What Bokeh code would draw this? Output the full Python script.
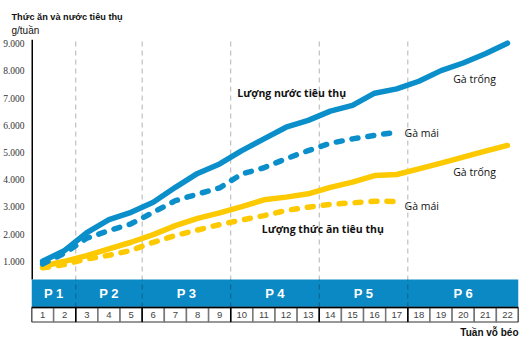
from bokeh.plotting import figure
from bokeh.models import Range1d, FixedTicker, Title, Label
from bokeh.embed import file_html
from bokeh.resources import INLINE
from bokeh.core.properties import value

# ---- data ----
weeks = list(range(1, 23))
water_rooster = [1000, 1400, 2050, 2530, 2800, 3170, 3720, 4230, 4580, 5070, 5500,
                 5930, 6180, 6520, 6730, 7180, 7340, 7620, 8010, 8290, 8630, 9020]
water_hen = [900, 1300, 1850, 2130, 2380, 2800, 3230, 3470, 3700, 4210, 4440,
             4770, 5070, 5340, 5500, 5630, 5750]
feed_rooster = [820, 1000, 1210, 1460, 1700, 1980, 2310, 2580, 2780, 3010, 3260,
                3360, 3480, 3720, 3910, 4150, 4190, 4400, 4610, 4830, 5050, 5260]
feed_hen = [760, 880, 1090, 1220, 1400, 1700, 1950, 2150, 2350, 2520, 2680,
            2870, 2990, 3090, 3150, 3210, 3200]
phase_labels = ["P 1", "P 2", "P 3", "P 4", "P 5", "P 6"]
phase_start = [1, 3, 6, 10, 14, 18]
phase_end = [2, 5, 9, 13, 17, 22]
y_ticks = [1000, 2000, 3000, 4000, 5000, 6000, 7000, 8000, 9000]
y_tick_labels = ["1.000", "2.000", "3.000", "4.000", "5.000", "6.000", "7.000", "8.000", "9.000"]

BLUE = "#0a8fca"
BAND = "#0b89c4"
YELLOW = "#fdc900"

BAND_TOP, BAND_BOT, CELL_BOT = 330, -700, -1230

p = figure(width=520, height=350, output_backend="svg", toolbar_location=None,
           x_range=Range1d(0.5, 22.5), y_range=Range1d(-1287, 9265),
           x_axis_location=None, min_border_left=22, min_border_right=2,
           min_border_top=36, min_border_bottom=27)
p.grid.visible = False
p.outline_line_color = None
p.background_fill_color = "white"

# titles
p.title.text = "Thức ăn và nước tiêu thụ"
p.title.text_font = "Liberation Sans"
p.title.text_font_size = "9.2px"
p.title.text_font_style = "bold"
p.title.text_color = "#111111"
p.title.offset = -20
p.title.standoff = 0
t2 = Title(text="g/tuần", text_font="Liberation Sans",
           text_font_size="10px", text_font_style="normal", text_color="#111111",
           offset=-20, standoff=2)
p.add_layout(t2, "above")
tb = Title(text="Tuần vỗ béo", text_font="Liberation Sans", text_font_size="10px",
           text_font_style="bold", text_color="#111111", align="right", standoff=2)
p.add_layout(tb, "below")

# y axis
ax = p.yaxis[0]
ax.ticker = FixedTicker(ticks=y_ticks)
ax.major_label_overrides = {t: l for t, l in zip(y_ticks, y_tick_labels)}
ax.major_tick_line_color = None
ax.minor_tick_line_color = None
ax.axis_line_color = None
ax.major_label_standoff = 1
ax.major_label_text_font = "Liberation Sans Narrow"
ax.major_label_text_font_size = "9.5px"
ax.major_label_text_color = "#333333"
p.segment(x0=[0.5], y0=[BAND_TOP], x1=[0.5], y1=[9150], line_color="black", line_width=3)

# phase band
p.quad(left=[0.5], right=[22.5], bottom=[BAND_BOT], top=[BAND_TOP],
       fill_color=BAND, line_color=None)
bounds = [s - 0.5 for s in phase_start[1:]]
p.segment(x0=bounds, y0=[BAND_BOT] * len(bounds), x1=bounds, y1=[9150] * len(bounds),
          line_color="black", line_alpha=0.3, line_width=1, line_dash="5 4")
centers = [(s + e) / 2 for s, e in zip(phase_start, phase_end)]
p.text(x=centers, y=[(BAND_TOP + BAND_BOT) / 2] * 6, text=phase_labels,
       text_font=value("Liberation Sans"), text_font_size="13px", text_font_style="bold",
       text_color="white", text_align="center", text_baseline="middle")

# week cells
p.quad(left=[w - 0.5 for w in weeks], right=[w + 0.5 for w in weeks],
       bottom=[CELL_BOT] * 22, top=[BAND_BOT] * 22,
       fill_color="white", line_color="#777777", line_width=1.5)
cell_black = [0.5] + bounds + [22.5]
p.segment(x0=cell_black, y0=[CELL_BOT] * len(cell_black), x1=cell_black,
          y1=[BAND_BOT] * len(cell_black), line_color="black", line_width=1.5)
p.segment(x0=[0.5], y0=[BAND_BOT], x1=[22.5], y1=[BAND_BOT], line_color="black", line_width=1.5)
p.text(x=weeks, y=[(BAND_BOT + CELL_BOT) / 2] * 22, text=[str(w) for w in weeks],
       text_font=value("Liberation Sans"), text_font_size="9.5px", text_color="#444444",
       text_align="center", text_baseline="middle")

# lines
p.line(weeks, feed_rooster, line_color=YELLOW, line_width=5.5, line_cap="round", line_join="round")
p.line(weeks[:len(feed_hen)], feed_hen, line_color=YELLOW, line_width=5.5,
       line_dash="6 10", line_cap="round")
p.line(weeks, water_rooster, line_color=BLUE, line_width=5.5, line_cap="round", line_join="round")
p.line(weeks[:len(water_hen)], water_hen, line_color=BLUE, line_width=5.5,
       line_dash="6 10", line_cap="round")

# annotations
def lab(x, y, t, bold=False):
    p.add_layout(Label(x=x, y=y, text=t, text_font="Open Sans", text_font_size="10.5px",
                       text_font_style="bold" if bold else "normal", text_color="#111111",
                       text_baseline="middle"))

lab(9.8, 7200, "Lượng nước tiêu thụ", True)
lab(19.55, 7720, "Gà trống")
lab(17.35, 5700, "Gà mái")
lab(19.55, 4300, "Gà trống")
lab(17.35, 3015, "Gà mái")
lab(10.9, 2170, "Lượng thức ăn tiêu thụ", True)

open("out.html", "w").write(file_html(p, INLINE))
